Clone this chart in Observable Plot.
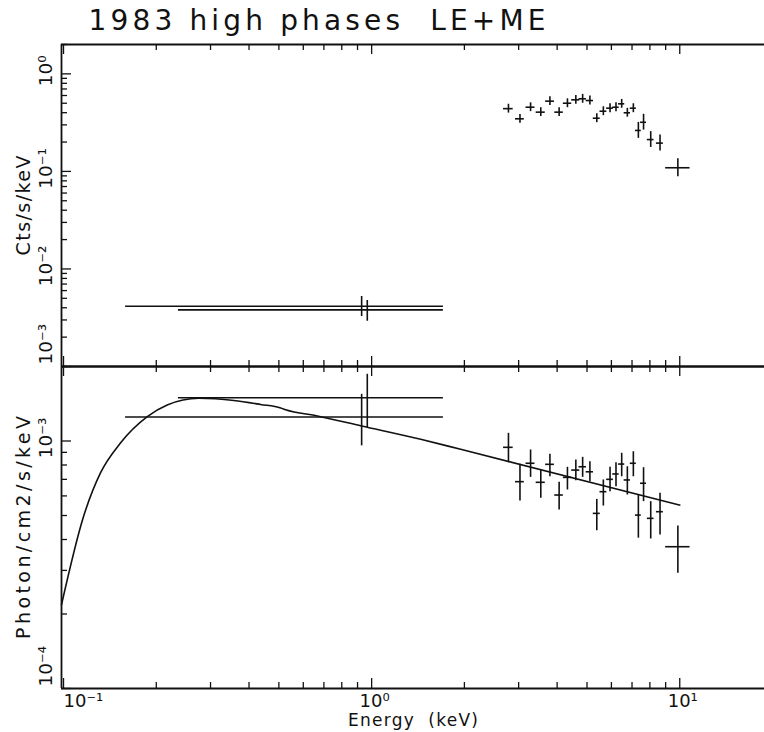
<!DOCTYPE html>
<html><head><meta charset="utf-8">
<script src="https://cdn.jsdelivr.net/npm/d3@7"></script>
<script src="https://cdn.jsdelivr.net/npm/@observablehq/plot@0.6"></script>
<style>
html,body{margin:0;padding:0;background:#fff;overflow:hidden;}
#chart{position:relative;width:764px;height:732px;overflow:hidden;background:#fff;}
#chart svg{position:absolute;left:0;overflow:visible;}
</style></head><body><div id="chart"></div>
<script>
// ---------- text ----------
const title = "1983 high phases\u00a0\u00a0LE+ME";
const topYLabel = "Cts/s/keV";
const botYLabel = "Photon/cm2/s/keV";
const xLabel = "Energy\u00a0\u00a0(keV)";

// ---------- scales / ticks ----------
const xDomain = [0.0985, 20];
const topDomain = [0.001, 2];
const botDomain = [0.0001, 0.002];
const xMajorTicks = [0.1, 1, 10];
const xMinorTicks = [0.2,0.3,0.4,0.5,0.6,0.7,0.8,0.9,2,3,4,5,6,7,8,9];
const xTickLabels = ["10\u207B\u00B9", "10\u2070", "10\u00B9"];
const topMajorTicks = [0.001, 0.01, 0.1, 1];
const topMinorTicks = [0.002,0.003,0.004,0.005,0.006,0.007,0.008,0.009,
                       0.02,0.03,0.04,0.05,0.06,0.07,0.08,0.09,
                       0.2,0.3,0.4,0.5,0.6,0.7,0.8,0.9,2];
const topTickLabels = ["10\u207B\u00B3", "10\u207B\u00B2", "10\u207B\u00B9", "10\u2070"];
const botMajorTicks = [0.0001, 0.001];
const botMinorTicks = [0.0002,0.0003,0.0004,0.0005,0.0006,0.0007,0.0008,0.0009,0.002];
const botTickLabels = ["10\u207B\u2074", "10\u207B\u00B3"];

// ---------- ME data ----------
const meE   = [2.78,3.03,3.28,3.54,3.79,4.06,4.32,4.60,4.84,5.11,5.38,5.65,5.94,6.21,6.48,6.76,7.07,7.34,7.63,8.05,8.63,9.86];
const meElo = [2.68,2.93,3.17,3.42,3.67,3.93,4.19,4.46,4.71,4.97,5.24,5.51,5.79,6.06,6.33,6.60,6.91,7.18,7.46,7.85,8.40,9.00];
const meEhi = [2.88,3.13,3.39,3.66,3.92,4.19,4.46,4.74,4.98,5.25,5.52,5.80,6.09,6.36,6.63,6.92,7.23,7.50,7.80,8.25,8.85,10.8];
const meCts   = [0.44,0.346,0.455,0.405,0.525,0.405,0.50,0.542,0.555,0.533,0.351,0.414,0.445,0.455,0.493,0.399,0.445,0.263,0.319,0.212,0.195,0.109];
const meCtsLo = [0.396,0.312,0.41,0.365,0.473,0.365,0.45,0.488,0.50,0.48,0.316,0.373,0.40,0.41,0.444,0.36,0.40,0.218,0.265,0.176,0.162,0.088];
const meCtsHi = [0.488,0.384,0.505,0.45,0.583,0.45,0.555,0.60,0.616,0.592,0.39,0.46,0.494,0.505,0.547,0.443,0.494,0.318,0.385,0.256,0.236,0.135];
const mePh   = [9.43e-4,6.85e-4,8.13e-4,6.81e-4,8.05e-4,6.05e-4,7.13e-4,7.63e-4,7.87e-4,7.51e-4,5.10e-4,6.24e-4,7.00e-4,7.36e-4,8.07e-4,6.96e-4,8.13e-4,5.02e-4,6.75e-4,4.87e-4,5.18e-4,3.74e-4];
const mePhHi = [1.074e-3,8.05e-4,9.20e-4,7.63e-4,8.84e-4,6.81e-4,7.83e-4,8.38e-4,8.59e-4,8.25e-4,5.81e-4,6.96e-4,7.83e-4,8.17e-4,8.92e-4,7.87e-4,9.05e-4,6.05e-4,7.80e-4,5.69e-4,6.15e-4,4.53e-4];
const mePhLo = [8.17e-4,5.72e-4,7.13e-4,5.87e-4,7.17e-4,5.26e-4,6.34e-4,6.91e-4,7.13e-4,6.85e-4,4.34e-4,5.46e-4,6.24e-4,6.54e-4,7.17e-4,6.05e-4,7.17e-4,4.05e-4,5.69e-4,4.02e-4,4.17e-4,2.92e-4];

// ---------- LE data ----------
const leE   = [0.928, 0.968];
const leElo = [0.159, 0.236];
const leEhi = [1.71, 1.71];
const leCts   = [4.15e-3, 3.81e-3];
const leCtsLo = [3.25e-3, 2.91e-3];
const leCtsHi = [5.22e-3, 4.75e-3];
const lePh   = [1.25e-3, 1.496e-3];
const lePhLo = [9.56e-4, 1.132e-3];
const lePhHi = [1.544e-3, 1.86e-3];

// ---------- model ----------
const modelE = [0.0985,0.116,0.1318,0.153,0.187,0.217,0.275,0.357,0.436,0.507,0.526,0.667,0.928,1.443,1.945,10.0];
const modelF = [2.18e-4,4.93e-4,7.43e-4,9.81e-4,1.254e-3,1.398e-3,1.488e-3,1.458e-3,1.405e-3,1.36e-3,1.338e-3,1.262e-3,1.15e-3,1.016e-3,9.26e-4,5.51e-4];

// ---------- build tables ----------
const me = meE.map((e,i)=>({e, elo:meElo[i], ehi:meEhi[i], c:meCts[i], clo:meCtsLo[i], chi:meCtsHi[i], p:mePh[i], plo:mePhLo[i], phi:mePhHi[i]}));
const le = leE.map((e,i)=>({e, elo:leElo[i], ehi:leEhi[i], c:leCts[i], clo:leCtsLo[i], chi:leCtsHi[i], p:lePh[i], plo:lePhLo[i], phi:lePhHi[i]}));
const model = modelE.map((e,i)=>({e, f:modelF[i]}));
const pts = me.concat(le);

const W = 772, H = 366, ML = 61;
const innerW = W - ML, innerH = 322;
const ink = "#111";
const font = "DejaVu Sans";
const minorLen = 6, majorLen = 10;
const sw = 1.6;

function xTickMarks(side){
  const key = side === "top" ? "insetBottom" : "insetTop";
  return [
    Plot.ruleX(xMinorTicks, {x: d=>d, stroke: ink, strokeWidth: 1.3, [key]: innerH - minorLen}),
    Plot.ruleX(xMajorTicks, {x: d=>d, stroke: ink, strokeWidth: 1.3, [key]: innerH - majorLen})
  ];
}
function yTickMarks(minor, major){
  return [
    Plot.ruleY(minor, {y: d=>d, stroke: ink, strokeWidth: 1.3, insetRight: innerW - minorLen}),
    Plot.ruleY(major, {y: d=>d, stroke: ink, strokeWidth: 1.3, insetRight: innerW - majorLen})
  ];
}
function yTickLabels(values, labels){
  const mid = values.map((v,i)=>({v, t: labels[i]}));
  return [
    Plot.text(mid.filter(d => d.v !== values[0]), {y: "v", text: "t", frameAnchor: "left", dx: -15, dy: -3, rotate: -90, textAnchor: "middle", lineAnchor: "middle", fontSize: 18.5, fill: ink}),
    Plot.text(mid.filter(d => d.v === values[0]), {y: "v", text: "t", frameAnchor: "left", dx: -15, dy: -2, rotate: -90, textAnchor: "start", lineAnchor: "middle", fontSize: 18.5, fill: ink})
  ];
}

const topPlot = Plot.plot({
  width: W, height: H, marginTop: 44, marginBottom: 0, marginLeft: ML, marginRight: 0,
  style: {background: "transparent", overflow: "visible", fontFamily: font, color: ink, maxWidth: "none"},
  x: {type: "log", domain: xDomain, axis: null},
  y: {type: "log", domain: topDomain, axis: null},
  marks: [
    Plot.ruleY([topDomain[1]], {stroke: ink, strokeWidth: 1.8}),
    Plot.ruleY([topDomain[0]], {stroke: ink, strokeWidth: 1.8}),
    Plot.ruleX([xDomain[0]], {stroke: ink, strokeWidth: 1.8}),
    ...xTickMarks("top"),
    ...xTickMarks("bottom"),
    ...yTickMarks(topMinorTicks, topMajorTicks),
    Plot.ruleY(pts, {y: "c", x1: "elo", x2: "ehi", stroke: ink, strokeWidth: sw}),
    Plot.ruleX(pts, {x: "e", y1: "clo", y2: "chi", stroke: ink, strokeWidth: sw}),
    ...yTickLabels(topMajorTicks, topTickLabels),
    Plot.text([topYLabel], {text: d=>d, frameAnchor: "left", dx: -38, rotate: -90, textAnchor: "middle", lineAnchor: "middle", fontSize: 19, fill: ink}),
    Plot.text([title], {text: d=>d, frameAnchor: "top-left", dx: 27, dy: -23, textAnchor: "start", lineAnchor: "middle", fontSize: 28, fill: ink})
  ]
});

const xl = xMajorTicks.map((v,i)=>({v, t: xTickLabels[i]}));
const botPlot = Plot.plot({
  width: W, height: H, marginTop: 0, marginBottom: 44, marginLeft: ML, marginRight: 0,
  style: {background: "transparent", overflow: "visible", fontFamily: font, color: ink, maxWidth: "none"},
  x: {type: "log", domain: xDomain, axis: null},
  y: {type: "log", domain: botDomain, axis: null},
  marks: [
    Plot.ruleY([botDomain[1]], {stroke: ink, strokeWidth: 1.8}),
    Plot.ruleY([botDomain[0]], {stroke: ink, strokeWidth: 1.8}),
    Plot.ruleX([xDomain[0]], {stroke: ink, strokeWidth: 1.8}),
    ...xTickMarks("top"),
    ...xTickMarks("bottom"),
    ...yTickMarks(botMinorTicks, botMajorTicks),
    Plot.line(model, {x: "e", y: "f", stroke: ink, strokeWidth: 1.6, curve: "monotone-x"}),
    Plot.ruleY(pts, {y: "p", x1: "elo", x2: "ehi", stroke: ink, strokeWidth: sw}),
    Plot.ruleX(pts, {x: "e", y1: "plo", y2: "phi", stroke: ink, strokeWidth: sw}),
    ...yTickLabels(botMajorTicks, botTickLabels),
    Plot.text([botYLabel], {text: d=>d, frameAnchor: "left", dx: -38, rotate: -90, textAnchor: "middle", lineAnchor: "middle", fontSize: 19, fill: ink}),
    Plot.text(xl.filter(d => d.v === xMajorTicks[0]), {x: "v", text: "t", frameAnchor: "bottom", dy: 13, textAnchor: "start", lineAnchor: "middle", fontSize: 18, fill: ink}),
    Plot.text(xl.filter(d => d.v !== xMajorTicks[0]), {x: "v", text: "t", frameAnchor: "bottom", dx: 3, dy: 13, textAnchor: "middle", lineAnchor: "middle", fontSize: 18, fill: ink}),
    Plot.text([xLabel], {text: d=>d, frameAnchor: "bottom", dx: -4, dy: 32, textAnchor: "middle", lineAnchor: "middle", fontSize: 17, fill: ink})
  ]
});

topPlot.style.top = "0px";
botPlot.style.top = H + "px";
const chart = document.getElementById("chart");
chart.appendChild(topPlot);
chart.appendChild(botPlot);

function fit(svg, str, len){
  svg.querySelectorAll("text").forEach(t => {
    if (t.textContent === str) { t.setAttribute("textLength", len); t.setAttribute("lengthAdjust", "spacing"); }
  });
}
fit(topPlot, title, 457);
fit(topPlot, topYLabel, 100);
fit(botPlot, botYLabel, 223);
fit(botPlot, xLabel, 130);
</script></body></html>
